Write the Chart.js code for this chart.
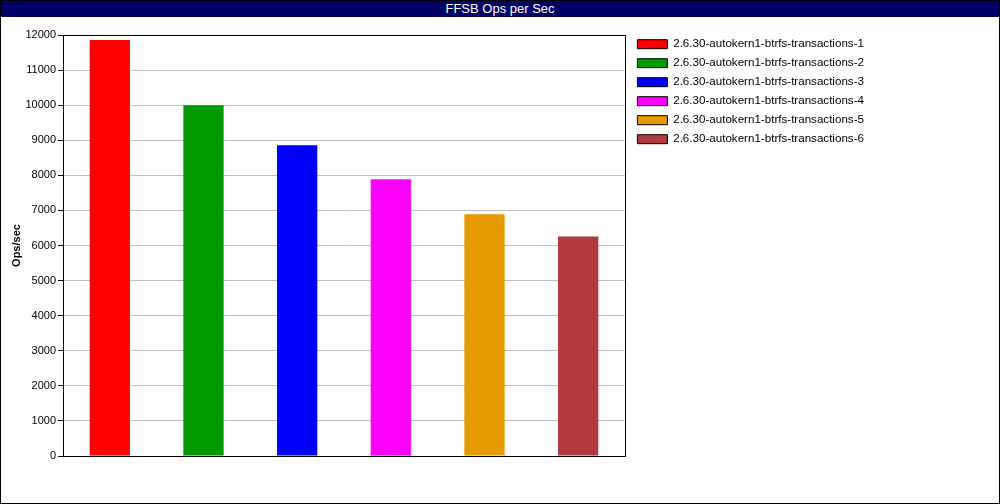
<!DOCTYPE html>
<html>
<head>
<meta charset="utf-8">
<script src="https://cdn.jsdelivr.net/npm/chart.js@4.4.0/dist/chart.umd.min.js"></script>
<style>
  html, body { margin: 0; padding: 0; background: #fff; }
  .frame {
    position: relative;
    width: 1000px;
    height: 504px;
    box-sizing: border-box;
    border: 1px solid #000;
    font-family: 'Liberation Sans', Arial, sans-serif;
  }
  .title {
    height: 16px;
    line-height: 16px;
    background: #000066;
    color: #fff;
    font-size: 13px;
    text-align: center;
  }
  .plot {
    position: absolute;
    left: 0;
    top: 16px;
    width: 998px;
    height: 486px;
  }
</style>
</head>
<body>
<div class="frame">
  <div class="title">FFSB Ops per Sec</div>
  <div class="plot"><canvas id="opsChart"></canvas></div>
</div>
<script>
const runs = [
  '2.6.30-autokern1-btrfs-transactions-1',
  '2.6.30-autokern1-btrfs-transactions-2',
  '2.6.30-autokern1-btrfs-transactions-3',
  '2.6.30-autokern1-btrfs-transactions-4',
  '2.6.30-autokern1-btrfs-transactions-5',
  '2.6.30-autokern1-btrfs-transactions-6'
];
const opsPerSec = [11860, 10000, 8860, 7890, 6890, 6260];
const barColors = ['#ff0000', '#009900', '#0000ff', '#ff00ff', '#e69900', '#b03a3e'];
const yTicks = [0, 1000, 2000, 3000, 4000, 5000, 6000, 7000, 8000, 9000, 10000, 11000, 12000];

const font = { family: "'Liberation Sans', Arial, sans-serif", size: 11 };

// black box around the plot area
const plotBorder = {
  id: 'plotBorder',
  afterDraw(chart) {
    const { ctx, chartArea: a } = chart;
    ctx.save();
    ctx.strokeStyle = '#000';
    ctx.lineWidth = 1;
    ctx.strokeRect(Math.round(a.left) + 0.5, Math.round(a.top) + 0.5,
      Math.round(a.right - a.left), Math.round(a.bottom - a.top));
    ctx.restore();
  }
};

// give the legend a fixed column so the plot ends where the original does
const legendColumn = {
  id: 'legendColumn',
  afterInit(chart) {
    const lg = chart.legend;
    const fit = lg.fit.bind(lg);
    lg.fit = function () {
      fit();
      this.width = 374;
      this.right = this.left + this.width;
    };
  },
  afterLayout(chart) {
    const lg = chart.legend;
    lg.left += 5;
    lg.right += 5;
    lg.top -= 4;
    lg.bottom -= 4;
  }
};

new Chart(document.getElementById('opsChart'), {
  type: 'bar',
  data: {
    labels: runs,
    datasets: [
      {
        label: 'Ops/sec',
        data: opsPerSec,
        backgroundColor: barColors,
        categoryPercentage: 1,
        barPercentage: 0.43
      }
    ]
  },
  options: {
    responsive: true,
    maintainAspectRatio: false,
    animation: false,
    layout: { padding: { top: 18, right: 0, bottom: 39, left: 0 } },
    plugins: {
      tooltip: { enabled: false },
      legend: {
        position: 'right',
        align: 'start',
        labels: {
          color: '#000',
          font: { family: font.family, size: 11.6 },
          boxWidth: 30,
          boxHeight: 9,
          padding: 7.4,
          generateLabels: (chart) => runs.map((name, i) => ({
            text: name,
            fillStyle: barColors[i],
            strokeStyle: '#000',
            lineWidth: 1,
            hidden: false,
            index: i
          }))
        }
      }
    },
    scales: {
      x: {
        ticks: { display: false },
        grid: { display: false },
        border: { color: '#000' }
      },
      y: {
        min: 0,
        max: 12000,
        afterBuildTicks: (axis) => {
          axis.ticks = yTicks.map((v) => ({ value: v }));
        },
        afterFit: (axis) => { axis.width = 62; },
        ticks: { color: '#000', font: font, padding: 2, callback: (v) => String(v) },
        grid: { color: '#c0c0c0', tickColor: '#000', tickLength: 5 },
        border: { color: '#000' },
        title: {
          display: true,
          text: 'Ops/sec',
          color: '#000',
          font: { family: font.family, size: 11, weight: 'bold' },
          padding: { top: 9, bottom: 0 }
        }
      }
    }
  },
  plugins: [plotBorder, legendColumn]
});
</script>
</body>
</html>
